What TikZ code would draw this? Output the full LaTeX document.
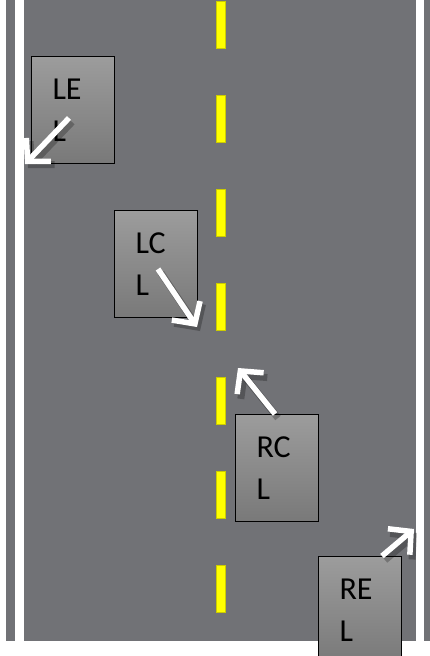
\documentclass[tikz,border=0pt]{standalone}
\usepackage{fontspec}
\setmainfont{Carlito}
\usetikzlibrary{arrows.meta}
\definecolor{road}{RGB}{113,114,118}
\definecolor{boxtop}{RGB}{156,156,156}
\definecolor{boxbot}{RGB}{121,121,121}
\definecolor{dash}{RGB}{255,255,0}

\begin{document}
\begin{tikzpicture}[x=1pt,y=-1pt,
  car/.style={rectangle, draw=black, line width=1pt, top color=boxtop, bottom color=boxbot,
    minimum width=83pt, minimum height=107pt, text width=41pt, align=left, inner sep=0pt,
    anchor=north west, font=\fontsize{32}{42}\selectfont},
  move/.style={white, line width=5.5pt, -{Straight Barb[length=16pt,width=34pt]},
    preaction={draw=black, opacity=0.25, line width=7pt, transform canvas={shift={(3pt,-4pt)}}}}]
\useasboundingbox (0,0) rectangle (430,656);
% road with edge lines
\fill[road] (6,0) rectangle (430,641);
\fill[white] (15,0) rectangle (24,641);
\fill[white] (416,0) rectangle (424,641);
\foreach \k in {0,...,6}
  \draw[fill=dash, draw=dash!80!black, line width=0.5pt] (216,{1+94*\k}) rectangle (225,{48+94*\k});
% lane changes
\node[car] (lel) at (31,56) {LE\\L};
\node[car] (lcl) at (114,210) {LC\\L};
\node[car] (rcl) at (235,414) {RC\\L};
\node[car] (rel) at (318,556) {RE\\L};
\coordinate (lel-to) at (25,164);
\coordinate (lcl-to) at (197,327);
\coordinate (rcl-to) at (238,368);
\coordinate (rel-to) at (414,529);
\draw[move] ([shift={(-4,8)}]lel.center) -- (lel-to);
\draw[move] ([shift={(2,5)}]lcl.center) -- (lcl-to);
\draw[move] ([xshift=-2pt]rcl.north) -- (rcl-to);
\draw[move] ([xshift=22pt]rel.north) -- (rel-to);
\end{tikzpicture}
\end{document}
